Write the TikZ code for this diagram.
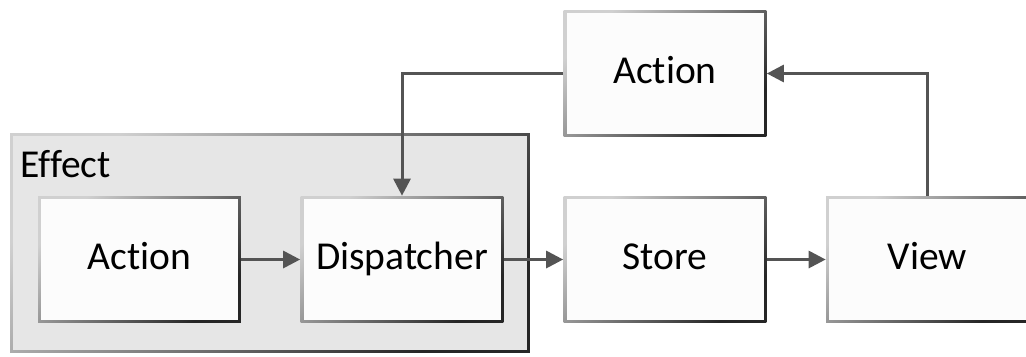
\documentclass[tikz,border=0pt]{standalone}
\usepackage{fontspec}
\setmainfont{Carlito}[Ligatures=NoCommon]
\usetikzlibrary{arrows.meta}
\definecolor{edgelight}{HTML}{D0D0D0}
\definecolor{edgedark}{HTML}{262626}
\definecolor{boxfill}{HTML}{FCFCFC}
\definecolor{effectfill}{HTML}{E6E6E6}
\definecolor{wirecol}{HTML}{545454}

\begin{document}
\begin{tikzpicture}[x=0.02cm,y=-0.02cm,>={Triangle[length=0.34cm,width=0.34cm]},
  gradframe/.style={shade,top color=edgelight,bottom color=edgedark,shading angle=45,inner sep=0pt,
    path picture={\fill[#1] ([shift={(1.7pt,1.7pt)}]path picture bounding box.south west)
      rectangle ([shift={(-1.7pt,-1.7pt)}]path picture bounding box.north east);}},
  blk/.style={gradframe=boxfill,minimum width=4.06cm,minimum height=2.54cm,
    text height=15pt,text depth=3.6pt,font=\fontsize{22.5}{27}\selectfont},
  wire/.style={draw=wirecol,line width=1.7pt,->}]
  \useasboundingbox (0,0) rectangle (1026,356);
  % effect group
  \node[gradframe=effectfill,minimum width=10.4cm,minimum height=4.4cm] (effect) at (270,243) {};
  \node[anchor=base west,inner sep=0pt,font=\fontsize{22.5}{27}\selectfont] (efflabel) at (20,177) {Effect};
  % blocks
  \node[blk] (act) at (139.5,259.5) {Action};
  \node[blk] (disp) at (402,259.5) {Dispatcher};
  \node[blk] (store) at (665,259.5) {Store};
  \node[blk] (view) at (927.5,259.5) {View};
  \node[blk] (topact) at (665,73.5) {Action};
  % flow
  \draw[wire] (act) -- (disp);
  \draw[wire] (disp) -- (store);
  \draw[wire] (store) -- (view);
  \draw[wire] (view.north) |- (topact.east);
  \draw[wire] (topact.west) -| (disp.north);
\end{tikzpicture}
\end{document}
